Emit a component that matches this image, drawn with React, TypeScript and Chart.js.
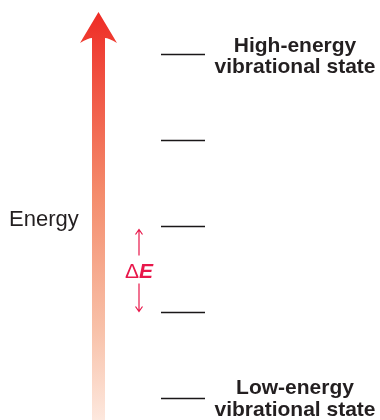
import React, { useEffect, useRef } from "react";
import { Chart, registerables } from "chart.js";

Chart.register(...registerables);

// Data: vibrational energy levels (quantum number v)
const levels: number[] = [0, 1, 2, 3, 4];
const highLabel: string[] = ["High-energy", "vibrational state"];
const lowLabel: string[] = ["Low-energy", "vibrational state"];
const axisLabel = "Energy";
const deltaLabel = ["Δ", "E"];
const deltaFrom = 1;
const deltaTo = 2;

const LINE_X0 = 161;
const LINE_X1 = 205;
const TEXT_X = 295;
const ARROW_X = 98.5;
const FONT = '"Liberation Sans", Arial, sans-serif';

const diagramPlugin = {
  id: "diagram",
  beforeDatasetsDraw(chart: any) {
    const ctx = chart.ctx as CanvasRenderingContext2D;
    const x = chart.scales.x;
    const y = chart.scales.y;
    const cx = x.getPixelForValue(ARROW_X);
    const H = chart.height;
    // big gradient arrow
    const g = ctx.createLinearGradient(0, 10, 0, H);
    g.addColorStop(0, "#EE2A24");
    g.addColorStop(0.1, "#EF4236");
    g.addColorStop(0.45, "#F48C6C");
    g.addColorStop(0.78, "#F8C1A9");
    g.addColorStop(1, "#FDE8DE");
    ctx.save();
    ctx.fillStyle = g;
    ctx.beginPath();
    ctx.moveTo(cx, 12);
    ctx.lineTo(cx + 18.5, 43);
    ctx.quadraticCurveTo(cx + 10, 38, cx + 6.5, 38);
    ctx.lineTo(cx + 6.5, H);
    ctx.lineTo(cx - 6.5, H);
    ctx.lineTo(cx - 6.5, 38);
    ctx.quadraticCurveTo(cx - 10, 38, cx - 18.5, 43);
    ctx.closePath();
    ctx.fill();

    // Energy label
    ctx.fillStyle = "#231F20";
    ctx.font = "22px " + FONT;
    ctx.textAlign = "left";
    ctx.textBaseline = "alphabetic";
    ctx.fillText(axisLabel, 9, 226);

    // Delta E marker
    const yTop = y.getPixelForValue(deltaTo);
    const yBot = y.getPixelForValue(deltaFrom);
    const ax = 139;
    const red = "#E8174A";
    ctx.strokeStyle = red;
    ctx.fillStyle = red;
    ctx.lineWidth = 1.2;
    const mid = (yTop + yBot) / 2;
    ctx.beginPath();
    ctx.moveTo(ax, yTop + 3);
    ctx.lineTo(ax, mid - 14);
    ctx.moveTo(ax - 3.5, yTop + 8);
    ctx.lineTo(ax, yTop + 3);
    ctx.lineTo(ax + 3.5, yTop + 8);
    ctx.moveTo(ax, mid + 14);
    ctx.lineTo(ax, yBot - 1);
    ctx.moveTo(ax - 3.5, yBot - 6);
    ctx.lineTo(ax, yBot - 1);
    ctx.lineTo(ax + 3.5, yBot - 6);
    ctx.stroke();
    ctx.font = "21px " + FONT;
    const dw = ctx.measureText(deltaLabel[0]).width;
    ctx.font = "italic bold 21px " + FONT;
    const ew = ctx.measureText(deltaLabel[1]).width;
    const sx = ax - (dw + ew) / 2;
    ctx.font = "21px " + FONT;
    ctx.fillText(deltaLabel[0], sx, mid + 8);
    ctx.font = "italic bold 21px " + FONT;
    ctx.fillText(deltaLabel[1], sx + dw, mid + 8);

    // state labels
    ctx.fillStyle = "#231F20";
    ctx.font = "bold 21px " + FONT;
    ctx.textAlign = "center";
    const tx = x.getPixelForValue(TEXT_X);
    const yh = y.getPixelForValue(levels[levels.length - 1]);
    ctx.fillText(highLabel[0], tx, yh - 3);
    ctx.fillText(highLabel[1], tx, yh + 18);
    const yl = y.getPixelForValue(levels[0]);
    ctx.fillText(lowLabel[0], tx, yl - 5);
    ctx.fillText(lowLabel[1], tx, yl + 17);
    ctx.restore();
  },
};

export default function App() {
  const ref = useRef<HTMLCanvasElement>(null);
  useEffect(() => {
    document.body.style.margin = "0";
    const chart = new Chart(ref.current!, {
      type: "line",
      data: {
        datasets: levels.map((lv) => ({
          data: [
            { x: LINE_X0, y: lv },
            { x: LINE_X1, y: lv },
          ],
          borderColor: "#1A1718",
          borderWidth: 1.6,
          pointRadius: 0,
          fill: false,
        })),
      },
      options: {
        responsive: false,
        animation: false,
        events: [],
        layout: { padding: 0 },
        plugins: { legend: { display: false }, tooltip: { enabled: false } },
        scales: {
          x: { type: "linear", min: 0, max: 380, display: false },
          y: { type: "linear", min: -21.5 / 86, max: -21.5 / 86 + 420 / 86, display: false },
        },
      },
      plugins: [diagramPlugin],
    });
    return () => chart.destroy();
  }, []);
  return (
    <div style={{ width: 380, height: 420, background: "#fff" }}>
      <canvas ref={ref} width={380} height={420} />
    </div>
  );
}
